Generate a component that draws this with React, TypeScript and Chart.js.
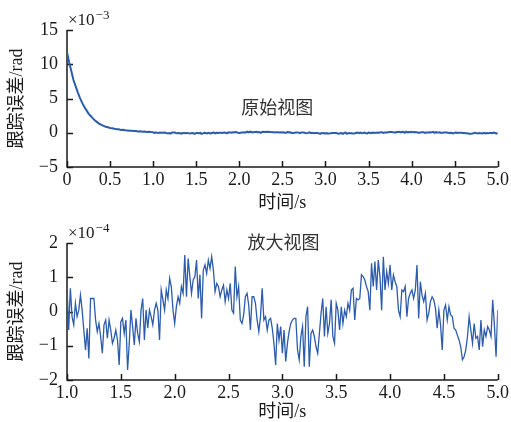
import React, { useEffect, useRef } from 'react';
import { Chart, registerables } from 'chart.js';

Chart.register(...registerables);

// ---- data ----
// Tracking error, original view (units ×10^-3 rad), samples from t = 0 s every 0.025 s up to 1 s
const decayStart = 0;
const decayStep = 0.025;
const decayValues = [
  11.8, 10.3, 9.0, 7.7, 6.8, 5.9, 5.1, 4.4, 3.8, 3.3,
  2.8, 2.45, 2.1, 1.8, 1.55, 1.3, 1.15, 1.0, 0.88, 0.8,
  0.7, 0.66, 0.58, 0.52, 0.5, 0.42, 0.44, 0.36, 0.34, 0.3,
  0.3, 0.24, 0.25, 0.2, 0.21, 0.16, 0.17, 0.12, 0.13, 0.1,
];

// Tracking error, zoomed view (units ×10^-4 rad), t = 1.0 … 5.0 s, evenly sampled
const zoomStart = 1.0;
const zoomEnd = 5.0;
const zoomValues = [
  0.77, -0.54, 0.68, -0.15, -0.39, 0.24, -0.15, 0.04, 0.48, 0.04,
  -0.54, -1.12, -0.49, -1.37, 0.38, 0.38, 0.38, -0.25, -0.59, -0.35,
  -0.73, -1.22, -0.39, -0.25, -0.78, -0.25, -0.54, -0.93, -0.78, -0.54,
  -0.83, -1.56, -0.3, -0.2, -0.64, -0.25, -1.71, -0.93, 0.04, -0.44,
  -0.98, -0.2, -0.64, -0.88, 0.04, 0.38, -0.83, 0.04, -0.49, 0.04,
  -0.15, -0.39, 0.04, 0.24, 0.04, -0.83, 0.63, 0.34, 0.04, 0.63,
  0.38, 0.97, 0.73, 0.04, -0.35, 0.14, 0.43, 0.24, 0.73, 0.53,
  1.65, 0.43, 1.55, 1.02, 0.53, 0.92, 1.02, 1.5, 0.38, 1.07,
  -0.2, 1.21, 1.36, 1.11, 1.5, 1.26, 1.6, 1.21, 0.58, 0.82,
  0.73, 0.43, 0.63, 0.77, 0.29, 0.63, 0.38, 0.82, 0.04, -0.05,
  1.31, 0.43, 0.73, -0.25, -0.35, -0.1, 0.43, 0.53, 0.19, -0.54,
  0.43, 0.43, 0.24,
  -0.25, -0.59, -0.15, 0.68, -0.25, -0.15, -0.54, -0.25, -0.2, -0.49,
  -0.93, -1.56, -0.35, -0.83, -0.44, -1.22, -0.54, -1.46, -0.93, -0.59,
  -0.35, -0.25, -0.2, -0.2, -1.12, -1.41, -0.73, -0.44, -1.61, -0.15,
  0.14, -1.61, -0.64, -0.54, -0.73, -1.03, -1.22, -0.64, -0.05, 0.38,
  -0.73, 0.14, -0.64, -0.35, 0.34, -0.73, -0.93, 0.24, 0.04, -0.54,
  0.14, -0.35, 0.04, -0.15, 0.24, 0.04, 0.63, 0.68, -0.25, 0.38,
  0.34, 0.38, 1.07, 1.02, 0.92, 0.73, 0.58, 0.04, 1.41, 0.73,
  1.46, 0.63, 1.5, 1.02, 0.04, 1.6, 0.63, 1.16, 0.82, 1.36,
  0.63, 1.07, 0.87, 0.73, 0.04, -0.15, 0.63, 0.58, 0.73, -0.15,
  0.38, 0.53, 0.63, 0.38, 0.63, 1.36, -0.2, 0.87, 0.48, 0.29,
  0.53, -0.25, -0.05, 0.29, 0.43, 0.34, 0.09, -0.49, 0.04, -0.39,
  -1.12, 0.04, 0.19, -0.25, 0.14, -0.1, -0.15, -0.49, -0.54, -0.69,
  -0.83, -1.03, -1.41, -1.32, -1.12, -0.73, -0.15, -0.54, -0.93, -0.35,
  -0.78, -0.73, -1.12, -0.25, -1.03, -0.54, -0.73, -0.44, -0.54, -0.73,
  0.34, -0.39, -1.32, 0.04,
];

// axis ranges / tick steps
const topX = { min: 0, max: 5, step: 0.5 };
const topY = { min: -5, max: 15, step: 5 };
const botX = { min: 1, max: 5, step: 0.5 };
const botY = { min: -2, max: 2, step: 1 };

// texts
const xTitle = '时间/s';
const yTitle = '跟踪误差/rad';
const topNote = '原始视图';
const botNote = '放大视图';
const topExp = '−3';
const botExp = '−4';
// annotation anchor (data coords)
const topNoteAt = { x: 2.44, y: 3.5 };
const botNoteAt = { x: 3.01, y: 1.97 };

const SERIF = "'Liberation Serif', 'Times New Roman', 'Noto Sans CJK SC', serif";
const LINE = '#2c5caa';
const INK = '#1a1a1a';

const zoomStep = (zoomEnd - zoomStart) / (zoomValues.length - 1);
const zoomPoints = zoomValues.map((v, i) => ({ x: zoomStart + i * zoomStep, y: v }));
const topPoints = [
  ...decayValues.map((v, i) => ({ x: decayStart + i * decayStep, y: v })),
  ...zoomValues.map((v, i) => ({ x: zoomStart + i * zoomStep, y: v / 10 })),
];

const fmtNum = (v: number, fixed: boolean) => {
  const s = fixed && v !== 0 ? Math.abs(v).toFixed(1) : String(Math.abs(v));
  return v < 0 ? '−' + s : s;
};

function decor(exp: string, note: string, noteAt: { x: number; y: number }, xTitleGap: number) {
  return {
    id: 'decor',
    beforeDatasetsDraw(chart: any) {
      const { ctx, chartArea: a, scales } = chart;
      const x = scales.x, y = scales.y;
      ctx.save();
      ctx.strokeStyle = INK;
      ctx.lineWidth = 1.5;
      ctx.beginPath();
      ctx.moveTo(a.left, a.top);
      ctx.lineTo(a.left, a.bottom);
      ctx.lineTo(a.right, a.bottom);
      x.ticks.forEach((t: any) => {
        const px = Math.round(x.getPixelForValue(t.value)) + 0.5;
        ctx.moveTo(px, a.bottom);
        ctx.lineTo(px, a.bottom - 6);
      });
      y.ticks.forEach((t: any) => {
        const py = Math.round(y.getPixelForValue(t.value)) + 0.5;
        ctx.moveTo(a.left, py);
        ctx.lineTo(a.left + 6, py);
      });
      ctx.stroke();
      ctx.restore();
    },
    afterDraw(chart: any) {
      const { ctx, chartArea: a, scales } = chart;
      const x = scales.x, y = scales.y;
      ctx.save();
      ctx.fillStyle = INK;
      // exponent
      ctx.textAlign = 'left';
      ctx.textBaseline = 'alphabetic';
      ctx.font = `17px ${SERIF}`;
      const base = a.top - 5;
      ctx.fillText('×10', a.left + 1, base);
      const w = ctx.measureText('×10').width;
      ctx.font = `13px ${SERIF}`;
      ctx.fillText(exp, a.left + 1 + w + 1, base - 6);
      // x title
      ctx.font = `18px ${SERIF}`;
      ctx.textAlign = 'center';
      ctx.textBaseline = 'middle';
      ctx.fillText(xTitle, (a.left + a.right) / 2, a.bottom + xTitleGap);
      // y title
      ctx.save();
      ctx.translate(17, (a.top + a.bottom) / 2);
      ctx.rotate(-Math.PI / 2);
      ctx.fillText(yTitle, 0, 0);
      ctx.restore();
      // annotation
      ctx.fillStyle = '#333';
      ctx.font = `18px ${SERIF}`;
      ctx.fillText(note, x.getPixelForValue(noteAt.x), y.getPixelForValue(noteAt.y));
      ctx.restore();
    },
  };
}

function makeConfig(
  points: { x: number; y: number }[],
  xr: typeof topX,
  yr: typeof topY,
  lineWidth: number,
  padTop: number,
  xHeight: number,
  fixedFirst: boolean,
  plugin: any
): any {
  return {
    type: 'line',
    data: {
      datasets: [
        {
          data: points,
          borderColor: LINE,
          borderWidth: lineWidth,
          pointRadius: 0,
          fill: false,
          tension: 0,
        },
      ],
    },
    options: {
      animation: false,
      responsive: false,
      parsing: false,
      layout: { padding: { top: padTop, right: 13, left: 0, bottom: 0 } },
      plugins: { legend: { display: false }, tooltip: { enabled: false } },
      scales: {
        x: {
          type: 'linear',
          min: xr.min,
          max: xr.max,
          grid: { display: false, drawTicks: false },
          border: { display: false },
          ticks: {
            stepSize: xr.step,
            padding: 2,
            color: INK,
            font: { family: SERIF, size: 18 },
            maxRotation: 0,
            autoSkip: false,
            callback: (v: number) => fmtNum(v, fixedFirst || v !== 0),
          },
          afterFit: (s: any) => {
            s.height = xHeight;
          },
        },
        y: {
          type: 'linear',
          min: yr.min,
          max: yr.max,
          grid: { display: false, drawTicks: false },
          border: { display: false },
          ticks: {
            stepSize: yr.step,
            padding: 9,
            color: INK,
            font: { family: SERIF, size: 18 },
            callback: (v: number) => fmtNum(v, false),
          },
          afterFit: (s: any) => {
            s.width = 67;
          },
        },
      },
    },
    plugins: [plugin],
  };
}

export default function App() {
  const topRef = useRef<HTMLCanvasElement>(null);
  const botRef = useRef<HTMLCanvasElement>(null);

  useEffect(() => {
    document.body.style.margin = '0';
    const c1 = new Chart(
      topRef.current!,
      makeConfig(topPoints, topX, topY, 2, 30, 44, false, decor(topExp, topNote, topNoteAt, 36))
    );
    const c2 = new Chart(
      botRef.current!,
      makeConfig(zoomPoints, botX, botY, 1.3, 32, 42, true, decor(botExp, botNote, botNoteAt, 32))
    );
    return () => {
      c1.destroy();
      c2.destroy();
    };
  }, []);

  return (
    <div style={{ width: 511, height: 422, background: '#fff' }}>
      <canvas ref={topRef} width={511} height={211} style={{ display: 'block' }} />
      <canvas ref={botRef} width={511} height={211} style={{ display: 'block' }} />
    </div>
  );
}
